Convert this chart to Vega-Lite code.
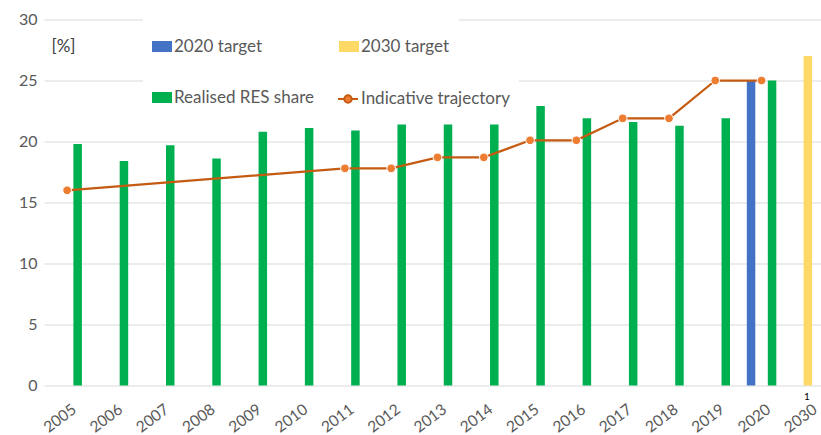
{
  "$schema": "https://vega.github.io/schema/vega-lite/v6.json",
  "width": 787,
  "height": 366,
  "autosize": {"type": "none"},
  "padding": {"left": 44, "top": 19.5, "right": -10, "bottom": 49.5},
  "background": "white",
  "config": {
    "font": "Lato",
    "view": {"stroke": null}
  },
  "datasets": {
    "bars": [
      {"year": "2005", "series": "Realised RES share", "value": 19.8},
      {"year": "2006", "series": "Realised RES share", "value": 18.4},
      {"year": "2007", "series": "Realised RES share", "value": 19.7},
      {"year": "2008", "series": "Realised RES share", "value": 18.6},
      {"year": "2009", "series": "Realised RES share", "value": 20.8},
      {"year": "2010", "series": "Realised RES share", "value": 21.1},
      {"year": "2011", "series": "Realised RES share", "value": 20.9},
      {"year": "2012", "series": "Realised RES share", "value": 21.4},
      {"year": "2013", "series": "Realised RES share", "value": 21.4},
      {"year": "2014", "series": "Realised RES share", "value": 21.4},
      {"year": "2015", "series": "Realised RES share", "value": 22.9},
      {"year": "2016", "series": "Realised RES share", "value": 21.9},
      {"year": "2017", "series": "Realised RES share", "value": 21.6},
      {"year": "2018", "series": "Realised RES share", "value": 21.3},
      {"year": "2019", "series": "Realised RES share", "value": 21.9},
      {"year": "2020", "series": "2020 target", "value": 25.0},
      {"year": "2020", "series": "Realised RES share", "value": 25.0},
      {"year": "2030", "series": "2030 target", "value": 27.0}
    ],
    "traj": [
      {"year": "2005", "value": 16.0},
      {"year": "2011", "value": 17.8},
      {"year": "2012", "value": 17.8},
      {"year": "2013", "value": 18.7},
      {"year": "2014", "value": 18.7},
      {"year": "2015", "value": 20.1},
      {"year": "2016", "value": 20.1},
      {"year": "2017", "value": 21.9},
      {"year": "2018", "value": 21.9},
      {"year": "2019", "value": 25.0},
      {"year": "2020", "value": 25.0}
    ],
    "note": [
      {"year": "2030", "text": "1"}
    ]
  },
  "encoding": {
    "x": {
      "field": "year",
      "type": "ordinal",
      "title": null,
      "scale": {
        "domain": ["2005","2006","2007","2008","2009","2010","2011","2012","2013","2014","2015","2016","2017","2018","2019","2020","2030"],
        "paddingInner": 0,
        "paddingOuter": 0
      },
      "axis": {
        "labelAngle": -37,
        "labelAlign": "right",
        "labelBaseline": "top",
        "labelPadding": 16,
        "labelOffset": 3,
        "labelFontSize": 15.5,
        "labelColor": "#595959",
        "labelFont": "Lato",
        "domain": false,
        "ticks": false,
        "grid": false
      }
    }
  },
  "layer": [
    {
      "data": {"name": "bars"},
      "transform": [{"filter": "datum.series === 'Realised RES share'"}],
      "mark": {"type": "bar", "width": 8.5, "xOffset": 10.5},
      "encoding": {
        "y": {
          "field": "value",
          "type": "quantitative",
          "scale": {"domain": [0, 30], "nice": false},
          "axis": {
            "title": "[%]",
            "titleAngle": 0,
            "titleAlign": "left",
            "titleBaseline": "middle",
            "titleX": 7,
            "titleY": 27,
            "titleFontSize": 17,
            "titleFontWeight": "normal",
            "titleColor": "#404040",
            "titleFont": "Lato",
            "values": [0, 5, 10, 15, 20, 25, 30],
            "grid": true,
            "gridColor": "#D9D9D9",
            "gridWidth": 1,
            "domain": false,
            "ticks": false,
            "labelPadding": 7,
            "labelFontSize": 16,
            "labelColor": "#595959",
            "labelFont": "Lato"
          }
        },
        "color": {
          "field": "series",
          "type": "nominal",
          "scale": {
            "domain": ["2020 target", "Realised RES share", "2030 target"],
            "range": ["#4472C4", "#00B050", "#FFD966"]
          },
          "legend": {
            "orient": "none",
            "legendX": 99,
            "legendY": -7,
            "columns": 2,
            "title": " ",
            "titleFontSize": 11,
            "titlePadding": 4,
            "padding": 9,
            "fillColor": "white",
            "labelFont": "Lato",
            "labelFontSize": 17,
            "labelColor": "#595959",
            "labelOffset": 2,
            "labelLimit": 300,
            "symbolSize": 400,
            "rowPadding": 33,
            "columnPadding": 25,
            "symbolType": "M-1,-0.55H1V0.55H-1Z",
            "symbolStrokeWidth": 0,
            "symbolOpacity": 1
          }
        }
      }
    },
    {
      "data": {"name": "bars"},
      "transform": [{"filter": "datum.series === '2020 target'"}],
      "mark": {"type": "bar", "width": 8.5, "xOffset": -10.5},
      "encoding": {
        "y": {"field": "value", "type": "quantitative"},
        "color": {"field": "series", "type": "nominal"}
      }
    },
    {
      "data": {"name": "bars"},
      "transform": [{"filter": "datum.series === '2030 target'"}],
      "mark": {"type": "bar", "width": 8.5},
      "encoding": {
        "y": {"field": "value", "type": "quantitative"},
        "color": {"field": "series", "type": "nominal"}
      }
    },
    {
      "data": {"name": "traj"},
      "mark": {"type": "line", "strokeWidth": 2.25},
      "encoding": {
        "y": {"field": "value", "type": "quantitative"},
        "stroke": {
          "datum": "Indicative trajectory",
          "scale": {"domain": ["Indicative trajectory"], "range": ["#C55A11"]},
          "legend": {
            "orient": "none",
            "legendX": 284,
            "legendY": 59.5,
            "title": null,
            "padding": 9,
            "fillColor": "white",
            "labelFont": "Lato",
            "labelFontSize": 17,
            "labelColor": "#595959",
            "labelOffset": 2,
            "labelLimit": 300,
            "symbolSize": 400,
            "symbolType": "M-1,0H-0.36M0.36,0H1M0.37,0A0.37,0.37 0 1,1 -0.37,0A0.37,0.37 0 1,1 0.37,0Z",
            "symbolStrokeWidth": 2,
            "symbolFillColor": "#ED7D31",
            "symbolOpacity": 1
          }
        }
      }
    },
    {
      "data": {"name": "traj"},
      "mark": {"type": "point", "filled": true, "fill": "#ED7D31", "stroke": "white", "strokeWidth": 1, "size": 75, "opacity": 1},
      "encoding": {
        "y": {"field": "value", "type": "quantitative"}
      }
    },
    {
      "data": {"name": "note"},
      "mark": {"type": "text", "dy": 11, "dx": -1, "fontSize": 10, "color": "black", "font": "Lato"},
      "encoding": {
        "y": {"datum": 0},
        "text": {"field": "text"}
      }
    }
  ]
}
